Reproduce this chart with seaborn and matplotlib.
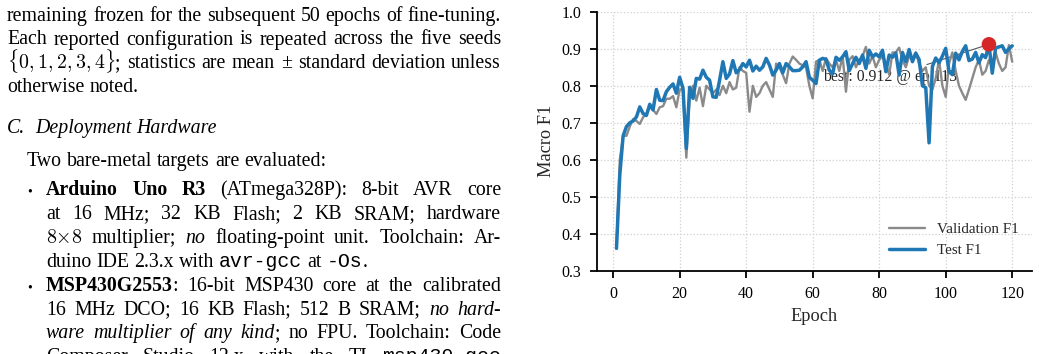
import re

import numpy as np
import pandas as pd
import seaborn as sns
import matplotlib

matplotlib.use("Agg")
import matplotlib.pyplot as plt


# chart data
epochs = list(range(1, 121))
val_f1 = [
    0.37, 0.60, 0.665, 0.665, 0.69, 0.71, 0.705, 0.697, 0.715, 0.725,
    0.742, 0.735, 0.724, 0.742, 0.745, 0.765, 0.765, 0.772, 0.742, 0.79,
    0.79, 0.606, 0.77, 0.80, 0.76, 0.795, 0.745, 0.80, 0.79, 0.78,
    0.79, 0.775, 0.80, 0.78, 0.81, 0.79, 0.795, 0.85, 0.84, 0.835,
    0.73, 0.80, 0.77, 0.78, 0.80, 0.81, 0.79, 0.77, 0.86, 0.85,
    0.83, 0.807, 0.86, 0.879, 0.87, 0.86, 0.855, 0.85, 0.80, 0.766,
    0.865, 0.87, 0.84, 0.875, 0.86, 0.85, 0.87, 0.84, 0.88, 0.784,
    0.87, 0.88, 0.85, 0.87, 0.88, 0.905, 0.86, 0.88, 0.85, 0.87,
    0.88, 0.86, 0.83, 0.89, 0.89, 0.903, 0.87, 0.85, 0.88, 0.87,
    0.89, 0.86, 0.84, 0.85, 0.80, 0.79, 0.82, 0.87, 0.80, 0.77,
    0.86, 0.89, 0.84, 0.80, 0.78, 0.762, 0.79, 0.82, 0.85, 0.87,
    0.83, 0.84, 0.87, 0.85, 0.89, 0.86, 0.84, 0.85, 0.91, 0.865,
]
test_f1 = [
    0.361, 0.56, 0.665, 0.69, 0.70, 0.705, 0.716, 0.743, 0.725, 0.72,
    0.75, 0.735, 0.79, 0.761, 0.76, 0.784, 0.796, 0.805, 0.78, 0.823,
    0.793, 0.631, 0.796, 0.766, 0.82, 0.818, 0.842, 0.823, 0.815, 0.77,
    0.769, 0.815, 0.865, 0.82, 0.832, 0.868, 0.835, 0.844, 0.86, 0.851,
    0.869, 0.84, 0.853, 0.842, 0.851, 0.874, 0.856, 0.829, 0.842, 0.86,
    0.835, 0.86, 0.851, 0.841, 0.841, 0.842, 0.851, 0.865, 0.823, 0.815,
    0.806, 0.869, 0.874, 0.871, 0.842, 0.832, 0.877, 0.869, 0.878, 0.892,
    0.841, 0.86, 0.877, 0.86, 0.883, 0.847, 0.896, 0.878, 0.886, 0.878,
    0.896, 0.838, 0.883, 0.877, 0.888, 0.829, 0.89, 0.865, 0.898, 0.865,
    0.888, 0.871, 0.80, 0.795, 0.646, 0.852, 0.875, 0.862, 0.88, 0.901,
    0.838, 0.83, 0.888, 0.87, 0.893, 0.908, 0.868, 0.872, 0.89, 0.862,
    0.884, 0.876, 0.912, 0.834, 0.902, 0.905, 0.908, 0.89, 0.90, 0.908,
]
series_names = ["Validation F1", "Test F1"]
x_ticks = [0, 20, 40, 60, 80, 100, 120]
y_ticks = [0.3, 0.4, 0.5, 0.6, 0.7, 0.8, 0.9, 1.0]

# left column of the paper page: (x_left, baseline, justified, markup)
# markup: **bold**, *italic*, `mono`, $math$
body_lines = [
    (7, 20.7, True, "remaining frozen for the subsequent 50 epochs of fine-tuning."),
    (7, 44.5, True, "Each reported configuration is repeated across the five seeds"),
    (7, 68.3, True, r"$\{0,1,2,3,4\}$; statistics are mean ± standard deviation unless"),
    (7, 92.2, False, "otherwise noted."),
    (7, 133.3, False, "*C.*  *Deployment* *Hardware*"),
    (26.7, 165.7, False, "Two bare-metal targets are evaluated:"),
    (46, 195.0, True, "**Arduino** **Uno** **R3** (ATmega328P): 8-bit AVR core"),
    (46, 218.9, True, "at 16 MHz; 32 KB Flash; 2 KB SRAM; hardware"),
    (46, 242.7, True, r"$8{\times}8$ multiplier; *no* floating-point unit. Toolchain: Ar-"),
    (46, 266.6, False, "duino IDE 2.3.x with `avr-gcc` at `-Os`."),
    (46, 290.6, True, "**MSP430G2553**: 16-bit MSP430 core at the calibrated"),
    (46, 314.6, True, "16 MHz DCO; 16 KB Flash; 512 B SRAM; *no* *hard-*"),
    (46, 338.4, True, "*ware* *multiplier* *of* *any* *kind*; no FPU. Toolchain: Code"),
    (46, 362.3, True, "Composer Studio 12.x with the TI `msp430-gcc`"),
]
bullet_rows = [195.0, 290.6]

W, H = 1039, 354
TEXT_RIGHT = 501
BODY_SIZE = 14.3
MATH_SIZE = 14.3
MONO = ["Liberation Mono", "Courier New", "DejaVu Sans Mono"]


def piece_props(p):
    if p.startswith("**"):
        return p[2:-2], dict(weight="bold")
    if p.startswith("*"):
        return p[1:-1], dict(style="italic")
    if p.startswith("`"):
        return p[1:-1], dict(family=MONO)
    if p.startswith("$"):
        return p, dict(fontsize=MATH_SIZE)
    return p, {}


def draw_body(fig):
    renderer = fig.canvas.get_renderer()
    # width of a normal space
    t1 = fig.text(0, 0, "a a", fontsize=BODY_SIZE)
    t2 = fig.text(0, 0, "aa", fontsize=BODY_SIZE)
    space = (t1.get_window_extent(renderer).width
             - t2.get_window_extent(renderer).width)
    t1.remove()
    t2.remove()

    for x0, base, justify, line in body_lines:
        words = []
        for w in line.split(" "):
            if w == "":
                words.append([])
                continue
            pieces = re.findall(r"\*\*.+?\*\*|\*.+?\*|`.+?`|\$.+?\$|[^*`$]+", w)
            objs = []
            for p in pieces:
                s, kw = piece_props(p)
                kw.setdefault("fontsize", BODY_SIZE)
                t = fig.text(0, 0, s, va="baseline", color="black", **kw)
                objs.append((t, t.get_window_extent(renderer).width))
            words.append(objs)
        total = sum(wd for objs in words for _, wd in objs)
        gaps = len(words) - 1
        if justify and gaps > 0:
            gap = (TEXT_RIGHT - x0 - total) / gaps
        else:
            gap = space
        x = x0
        for objs in words:
            for t, wd in objs:
                t.set_position((x / W, 1 - base / H))
                x += wd
            x += gap

    for yb in bullet_rows:
        fig.text(27.5 / W, 1 - (yb + 0.5) / H, "•", fontsize=10,
                 va="baseline", color="black")


def main():
    sns.set_theme(style="ticks")
    plt.rcParams["font.family"] = ["Liberation Serif", "DejaVu Serif"]
    plt.rcParams["mathtext.fontset"] = "cm"

    fig = plt.figure(figsize=(W / 100, H / 100), dpi=100)
    ax = fig.add_axes([596.7 / W, 1 - 271 / H, (1032 - 596.7) / W, (271 - 11.7) / H])

    df = pd.DataFrame({"Epoch": epochs, series_names[0]: val_f1,
                       series_names[1]: test_f1})
    sns.lineplot(data=df, x="Epoch", y=series_names[0], ax=ax, color="#8a8a8a",
                 lw=1.7, label=series_names[0])
    sns.lineplot(data=df, x="Epoch", y=series_names[1], ax=ax, color="#1f77b4",
                 lw=2.5, label=series_names[1])

    # mark the best test epoch
    best_i = int(np.argmax(test_f1))
    best_ep, best_val = epochs[best_i], test_f1[best_i]
    sns.scatterplot(x=[best_ep], y=[best_val], ax=ax, color="#d62728", s=110,
                    edgecolor="none", zorder=5, legend=False)
    ax.annotate(f"best: {best_val:.3f} @ ep.{best_ep}", xy=(best_ep, best_val),
                xytext=(63, 0.8245), ha="left", va="center", fontsize=11.3,
                arrowprops=dict(arrowstyle="-", color="#555555", lw=0.8),
                zorder=1.5)

    ax.set_ylim(0.3, 1.0)
    ax.set_yticks(y_ticks)
    ax.set_yticklabels([f"{v:.1f}" for v in y_ticks])
    ax.set_xticks(x_ticks)
    ax.set_xlabel("Epoch", fontsize=13.2)
    ax.set_ylabel("Macro F1", fontsize=13.2, labelpad=5)
    ax.grid(True, ls=":", color="#cfcfcf", lw=0.9)
    ax.set_axisbelow(True)
    sns.despine(ax=ax)
    for sp in ["left", "bottom"]:
        ax.spines[sp].set_color("black")
        ax.spines[sp].set_linewidth(1.3)
    ax.tick_params(direction="out", length=5, width=1.3, labelsize=11.5,
                   colors="black", pad=6)
    ax.legend(loc="lower right", frameon=False, fontsize=10.8,
              handlelength=2.4, handletextpad=0.8, borderaxespad=0.5,
              labelspacing=0.55)

    draw_body(fig)
    fig.savefig("out.png", dpi=100)


if __name__ == "__main__":
    main()
